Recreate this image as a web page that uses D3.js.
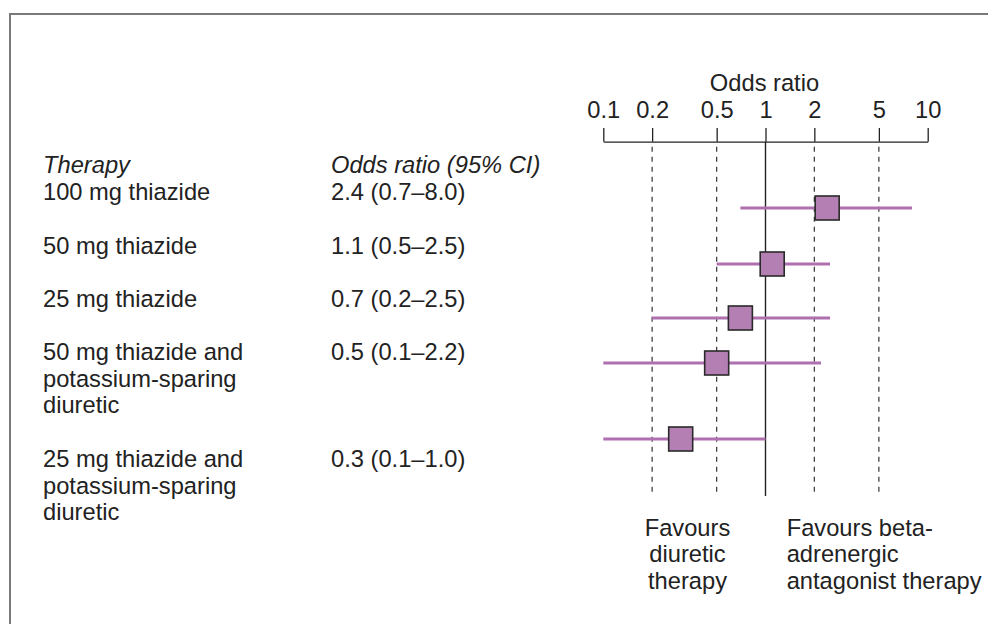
<!DOCTYPE html>
<html>
<head>
<meta charset="utf-8">
<script src="https://cdn.jsdelivr.net/npm/d3@7"></script>
<style>
  html, body { margin: 0; padding: 0; background: #fff; }
  svg { display: block; }
  text { font-family: "Liberation Sans", Arial, Helvetica, sans-serif; fill: #222; }
</style>
</head>
<body>
<svg id="chart" width="988" height="624"></svg>
<script>
// Forest plot data: therapy vs odds ratio with 95% CI
const therapyLines = [
  ["100 mg thiazide"],
  ["50 mg thiazide"],
  ["25 mg thiazide"],
  ["50 mg thiazide and", "potassium-sparing", "diuretic"],
  ["25 mg thiazide and", "potassium-sparing", "diuretic"]
];
const oddsRatio = [2.4, 1.1, 0.7, 0.5, 0.3];
const ciLow = [0.7, 0.5, 0.2, 0.1, 0.1];
const ciHigh = [8.0, 2.5, 2.5, 2.2, 1.0];
const tickValues = [0.1, 0.2, 0.5, 1, 2, 5, 10];
const tickLabels = ["0.1", "0.2", "0.5", "1", "2", "5", "10"];
const guideValues = [0.2, 0.5, 2, 5];
const favoursLeft = ["Favours", "diuretic", "therapy"];
const favoursRight = ["Favours beta-", "adrenergic", "antagonist therapy"];

const FONT = 23.7;
const LINE = 26.6;
const svg = d3.select("#chart");

// Frame (open on right and bottom)
svg.append("path")
  .attr("d", "M10,630 L10,14 L995,14")
  .attr("fill", "none")
  .attr("stroke", "#7a7a7a")
  .attr("stroke-width", 2);

const x = d3.scaleLog().domain([0.1, 10]).range([603.3, 927.7]);
const rows = d3.range(oddsRatio.length);
// vertical placement of each estimate row
const y = d3.scaleOrdinal().domain(rows).range([208, 264, 318, 363, 439]);

const axisY = 141.7;
const plotBottom = 496;

// Dashed guide lines
svg.append("g").selectAll("line")
  .data(guideValues)
  .join("line")
  .attr("x1", d => x(d)).attr("x2", d => x(d))
  .attr("y1", axisY + 5).attr("y2", plotBottom)
  .attr("stroke", "#333")
  .attr("stroke-width", 1.2)
  .attr("stroke-dasharray", "5,5");

// Line of no effect
svg.append("line")
  .attr("x1", x(1)).attr("x2", x(1))
  .attr("y1", axisY).attr("y2", plotBottom)
  .attr("stroke", "#222")
  .attr("stroke-width", 1.4);

// Axis on top
const axis = d3.axisTop(x)
  .tickValues(tickValues)
  .tickFormat((d, i) => tickLabels[i])
  .tickSize(13.7)
  .tickSizeOuter(0)
  .tickPadding(9.7);
const gAxis = svg.append("g")
  .attr("transform", `translate(0,${axisY})`)
  .call(axis);
gAxis.select(".domain").attr("stroke", "#222").attr("stroke-width", 1.3);
gAxis.selectAll(".tick line").attr("stroke", "#222").attr("stroke-width", 1.3);
gAxis.selectAll(".tick text")
  .attr("font-size", FONT)
  .attr("font-family", "Liberation Sans, Arial, sans-serif")
  .attr("fill", "#222");

svg.append("text")
  .attr("x", x(1) - 1)
  .attr("y", 90.7)
  .attr("text-anchor", "middle")
  .attr("font-size", FONT)
  .text("Odds ratio");

// Column headers
svg.append("text").attr("x", 43).attr("y", 173)
  .attr("font-size", FONT).attr("font-style", "italic").text("Therapy");
svg.append("text").attr("x", 331).attr("y", 173)
  .attr("font-size", FONT).attr("font-style", "italic").text("Odds ratio (95% CI)");

// Row labels
const rowBaselines = [200, 253.5, 307, 360, 467];
const fmt = d3.format(".1f");
rows.forEach(i => {
  const t = svg.append("text")
    .attr("x", 43)
    .attr("y", rowBaselines[i])
    .attr("font-size", FONT);
  therapyLines[i].forEach((line, j) => {
    t.append("tspan").attr("x", 43).attr("dy", j === 0 ? 0 : LINE).text(line);
  });
  svg.append("text")
    .attr("x", 331)
    .attr("y", rowBaselines[i])
    .attr("font-size", FONT)
    .text(`${fmt(oddsRatio[i])} (${fmt(ciLow[i])}–${fmt(ciHigh[i])})`);
});

// Confidence intervals
svg.append("g").selectAll("line")
  .data(rows)
  .join("line")
  .attr("x1", i => x(ciLow[i]))
  .attr("x2", i => x(ciHigh[i]))
  .attr("y1", i => y(i)).attr("y2", i => y(i))
  .attr("stroke", "#b070b0")
  .attr("stroke-width", 3);

// Point estimates
const S = 24;
svg.append("g").selectAll("rect")
  .data(rows)
  .join("rect")
  .attr("x", i => x(oddsRatio[i]) - S / 2)
  .attr("y", i => y(i) - S / 2)
  .attr("width", S).attr("height", S)
  .attr("fill", "#b480b4")
  .attr("stroke", "#2a2a2a")
  .attr("stroke-width", 1.6);

// Direction labels
const fl = svg.append("text").attr("y", 535.7).attr("font-size", FONT).attr("text-anchor", "middle");
favoursLeft.forEach((line, j) => {
  fl.append("tspan").attr("x", 687.5).attr("dy", j === 0 ? 0 : LINE).text(line);
});
const fr = svg.append("text").attr("y", 535.7).attr("font-size", FONT);
favoursRight.forEach((line, j) => {
  fr.append("tspan").attr("x", 786.7).attr("dy", j === 0 ? 0 : LINE).text(line);
});
</script>
</body>
</html>
